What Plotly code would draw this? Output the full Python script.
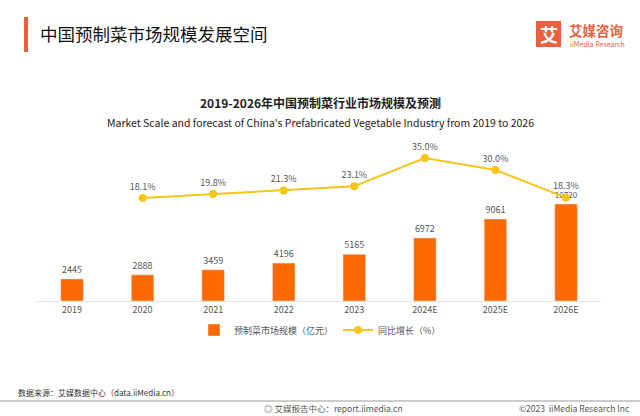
import plotly.graph_objects as go

years = ["2019", "2020", "2021", "2022", "2023", "2024E", "2025E", "2026E"]
market = [2445, 2888, 3459, 4196, 5165, 6972, 9061, 10720]
growth_years = ["2020", "2021", "2022", "2023", "2024E", "2025E", "2026E"]
growth = [18.1, 19.8, 21.3, 23.1, 35.0, 30.0, 18.3]

W, H = 640, 416
FONT = "Noto Sans CJK SC"
BAR = "#FF6A00"
LINE = "#F5C518"

def px(x):
    return x / W

def py(y):
    return 1 - y / H

fig = go.Figure()
fig.add_trace(go.Bar(
    x=years, y=market, name="预制菜市场规模（亿元）",
    marker=dict(color=BAR), width=0.32,
    text=[str(v) for v in market], textposition="outside",
    textfont=dict(size=9, color="#555555", family=FONT),
    cliponaxis=False,
))
fig.add_trace(go.Scatter(
    x=growth_years, y=growth, name="同比增长（%）", yaxis="y2",
    mode="lines+markers+text",
    line=dict(color=LINE, width=2),
    marker=dict(color=LINE, size=8),
    text=[f"{v:.1f}%" for v in growth], textposition="top center",
    textfont=dict(size=9, color="#555555", family=FONT),
    cliponaxis=False,
))

fig.update_layout(
    width=W, height=H,
    margin=dict(l=0, r=0, t=0, b=0),
    paper_bgcolor="white", plot_bgcolor="white",
    font=dict(family=FONT, color="#555555"),
    xaxis=dict(
        domain=[px(36.7), px(601.3)], showgrid=False, showline=True,
        linecolor="#E3E3E3", linewidth=1, ticks="",
        tickfont=dict(size=9, color="#555555"), anchor="y",
    ),
    yaxis=dict(
        domain=[py(301), py(145)], range=[0, 17240], visible=False,
        showgrid=False, zeroline=False,
    ),
    yaxis2=dict(
        overlaying="y", range=[-25.3, 40.5], visible=False,
        showgrid=False, zeroline=False,
    ),
    legend=dict(
        orientation="h", x=0.5, xanchor="center", y=py(330), yanchor="middle",
        font=dict(size=9, color="#555555"), itemwidth=30,
        traceorder="normal", tracegroupgap=0,
    ),
    showlegend=True,
)

annotations = [
    dict(text="中国预制菜市场规模发展空间", x=px(38), y=py(33), xanchor="left",
         yanchor="middle", font=dict(size=17.5, color="#111111")),
    dict(text="<b>2019-2026年中国预制菜行业市场规模及预测</b>", x=0.5, y=py(102),
         xanchor="center", yanchor="middle", font=dict(size=12, color="#222222")),
    dict(text="Market Scale and forecast of China's Prefabricated Vegetable Industry from 2019 to 2026",
         x=0.5, y=py(123), xanchor="center", yanchor="middle",
         font=dict(size=10.5, color="#222222")),
    dict(text="<b>艾</b>", x=px(548.5), y=py(34), xanchor="center", yanchor="middle",
         font=dict(size=18, color="white")),
    dict(text="<b>艾媒咨询</b>", x=px(567), y=py(30), xanchor="left", yanchor="middle",
         font=dict(size=13.5, color="#E8603C")),
    dict(text="iiMedia Research", x=px(568), y=py(44), xanchor="left", yanchor="middle",
         font=dict(size=7, color="#E8603C")),
    dict(text="数据来源：艾媒数据中心（data.iiMedia.cn）", x=px(16), y=py(392),
         xanchor="left", yanchor="middle", font=dict(size=8, color="#333333")),
    dict(text="◎ 艾媒报告中心：report.iimedia.cn", x=px(405), y=py(408),
         xanchor="right", yanchor="middle", font=dict(size=8.5, color="#555555")),
    dict(text="©2023  iiMedia Research Inc", x=px(632), y=py(408),
         xanchor="right", yanchor="middle", font=dict(size=8.5, color="#555555")),
]
for a in annotations:
    a.update(xref="paper", yref="paper", showarrow=False)
fig.update_layout(annotations=annotations)

fig.update_layout(shapes=[
    dict(type="rect", xref="paper", yref="paper", x0=px(24), x1=px(28),
         y0=py(52), y1=py(17), fillcolor="#E8603C", line=dict(width=0)),
    dict(type="rect", xref="paper", yref="paper", x0=px(536), x1=px(561),
         y0=py(47), y1=py(21), fillcolor="#E8603C", line=dict(width=0)),
    dict(type="line", xref="paper", yref="paper", x0=0, x1=1,
         y0=py(401), y1=py(401), line=dict(color="#999999", width=1)),
])

fig.write_html(
    "out.html",
    config={"displayModeBar": False},
    post_script="document.body.style.margin='0';document.body.style.padding='0';",
)
